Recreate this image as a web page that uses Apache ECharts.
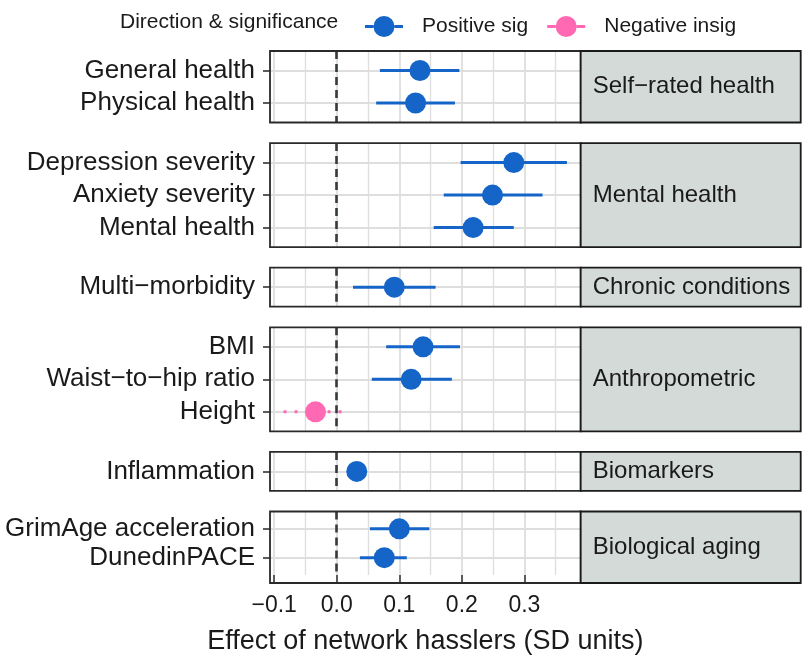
<!DOCTYPE html>
<html>
<head>
<meta charset="utf-8">
<title>Network hasslers forest plot</title>
<script src="https://cdn.jsdelivr.net/npm/echarts@6/dist/echarts.min.js"></script>
<style>
  html, body { margin: 0; padding: 0; background: #fff; }
  #chart { width: 802px; height: 656px; }
</style>
</head>
<body>
<div id="chart"></div>
<script>
// facet strips (right side), top to bottom
const panelNames = ['Self−rated health', 'Mental health', 'Chronic conditions', 'Anthropometric', 'Biomarkers', 'Biological aging'];
// outcomes in each facet, top to bottom
const outcomeLabels = [
  ['General health', 'Physical health'],
  ['Depression severity', 'Anxiety severity', 'Mental health'],
  ['Multi−morbidity'],
  ['BMI', 'Waist−to−hip ratio', 'Height'],
  ['Inflammation'],
  ['GrimAge acceleration', 'DunedinPACE']
];
const estimates = [[0.133, 0.126], [0.283, 0.249, 0.218], [0.092], [0.138, 0.119, -0.034], [0.032], [0.100, 0.076]];
const lowerCI   = [[0.069, 0.063], [0.198, 0.171, 0.155], [0.026], [0.079, 0.056, -0.085], [0.020], [0.053, 0.037]];
const upperCI   = [[0.196, 0.189], [0.368, 0.329, 0.283], [0.158], [0.197, 0.184, 0.011], [0.044], [0.148, 0.112]];
const groups    = [['Positive sig', 'Positive sig'], ['Positive sig', 'Positive sig', 'Positive sig'], ['Positive sig'],
                   ['Positive sig', 'Positive sig', 'Negative insig'], ['Positive sig'], ['Positive sig', 'Positive sig']];
const groupNames = ['Positive sig', 'Negative insig'];
const groupColors = { 'Positive sig': '#1565C8', 'Negative insig': '#FF69B4' };
const xBreaks = [-0.1, 0, 0.1, 0.2, 0.3];
const xMinorBreaks = [-0.05, 0.05, 0.15, 0.25, 0.35];

const X_MIN = -0.1067, X_MAX = 0.39;
const PANEL_LEFT = 270, PANEL_W = 310.7, STRIP_W = 220;
const ROW = 32.5, GAP = 20.6;
const FONT = '"Liberation Sans", Arial, Helvetica, sans-serif';
const INK = '#1a1a1a';
const GRID_COL = '#dedede';

const chart = echarts.init(document.getElementById('chart'));

const grids = [], xAxes = [], yAxes = [], series = [], graphics = [];
let panelTop = 51;

outcomeLabels.forEach((labels, i) => {
  const n = labels.length;
  const h = (n + 0.2) * ROW;
  const last = i === outcomeLabels.length - 1;
  const rows = labels.map((_, k) => k + 1);

  grids.push({ left: PANEL_LEFT, top: panelTop, width: PANEL_W, height: h, show: false });

  xAxes.push({
    gridIndex: i, type: 'value', min: X_MIN, max: X_MAX, position: 'bottom',
    axisLine: { show: false, onZero: false },
    axisTick: { show: last, length: 7, customValues: xBreaks, lineStyle: { color: '#333', width: 1.6 } },
    axisLabel: {
      show: last, customValues: xBreaks, margin: 19, fontSize: 23, color: INK, fontFamily: FONT,
      formatter: v => (v < 0 ? '−' : '') + Math.abs(v).toFixed(1)
    },
    splitLine: { show: true, lineStyle: { color: GRID_COL, width: 1.8 } },
    name: last ? 'Effect of network hasslers (SD units)' : '',
    nameLocation: 'middle', nameGap: 53,
    nameTextStyle: { fontSize: 27, color: INK, fontFamily: FONT }
  });

  yAxes.push({
    gridIndex: i, type: 'value', inverse: true, min: 0.4, max: n + 0.6, position: 'left',
    minInterval: 1, maxInterval: 1,
    axisLine: { show: false, onZero: false },
    axisTick: { show: true, length: 7, customValues: rows, lineStyle: { color: '#333', width: 1.6 } },
    axisLabel: {
      customValues: rows, margin: 15, fontSize: 26, color: INK, fontFamily: FONT,
      formatter: v => labels[Math.round(v) - 1] || ''
    },
    splitLine: { show: true, lineStyle: { color: GRID_COL, width: 1.8 } }
  });

  // minor grid + zero reference line
  series.push({
    type: 'line', xAxisIndex: i, yAxisIndex: i, data: [], z: 1, silent: true,
    markLine: {
      z: 1, symbol: 'none', silent: true, animation: false, label: { show: false },
      data: xMinorBreaks.map(v => ({ xAxis: v, lineStyle: { color: GRID_COL, width: 1.4, type: 'solid' } }))
        .concat([{ xAxis: 0, lineStyle: { color: '#353a3a', width: 2.6, type: [8, 5] } }])
    }
  });

  // confidence intervals
  series.push({
    type: 'custom', xAxisIndex: i, yAxisIndex: i, z: 3, silent: true,
    encode: { x: [0, 1], y: 2 },
    data: labels.map((_, k) => [lowerCI[i][k], upperCI[i][k], k + 1, groupNames.indexOf(groups[i][k])]),
    renderItem: (params, api) => {
      const y = api.value(2);
      const p1 = api.coord([api.value(0), y]);
      const p2 = api.coord([api.value(1), y]);
      const g = groupNames[api.value(3)];
      return {
        type: 'line',
        shape: { x1: p1[0], y1: p1[1], x2: p2[0], y2: p2[1] },
        style: {
          stroke: groupColors[g], lineWidth: 3, lineCap: 'butt',
          lineDash: g === 'Negative insig' ? [3, 8] : null
        }
      };
    }
  });

  // point estimates
  groupNames.forEach(g => {
    series.push({
      name: g, type: 'scatter', xAxisIndex: i, yAxisIndex: i, z: 4,
      symbol: 'circle', symbolSize: 21,
      itemStyle: { color: groupColors[g], opacity: 1 },
      data: labels.map((_, k) => groups[i][k] === g ? [estimates[i][k], k + 1] : null).filter(d => d)
    });
  });

  // panel border and facet strip
  graphics.push({
    type: 'rect', z: 100, silent: true,
    shape: { x: PANEL_LEFT, y: panelTop, width: PANEL_W, height: h },
    style: { fill: 'none', stroke: '#2a2a2a', lineWidth: 1.8 }
  });
  graphics.push({
    type: 'rect', z: 100, silent: true,
    shape: { x: PANEL_LEFT + PANEL_W, y: panelTop, width: STRIP_W, height: h },
    style: { fill: '#D4DAD7', stroke: INK, lineWidth: 1.8 }
  });
  graphics.push({
    type: 'text', z: 101, silent: true, x: PANEL_LEFT + PANEL_W + 12, y: panelTop + h / 2,
    style: { text: panelNames[i], fill: INK, font: '24px ' + FONT, verticalAlign: 'middle', textVerticalAlign: 'middle' }
  });

  panelTop += h + GAP;
});

graphics.push({
  type: 'text', silent: true, x: 120, y: 22,
  style: { text: 'Direction & significance', fill: INK, font: '21px ' + FONT, verticalAlign: 'middle', textVerticalAlign: 'middle' }
});

const LEGEND_ICON = 'path://M0,9h8.5v3h-8.5z M29.5,9h8.5v3h-8.5z M8.5,10.5a10.5,10.5 0 1,0 21,0a10.5,10.5 0 1,0 -21,0z';

chart.setOption({
  animation: false,
  backgroundColor: '#fff',
  textStyle: { fontFamily: FONT },
  legend: {
    data: groupNames, left: 360, top: 11, orient: 'horizontal',
    icon: LEGEND_ICON, itemWidth: 38, itemHeight: 21, itemGap: 19,
    selectedMode: false,
    textStyle: { fontSize: 21, color: INK, fontFamily: FONT, padding: [0, 0, 0, 14] }
  },
  grid: grids,
  xAxis: xAxes,
  yAxis: yAxes,
  series: series,
  graphic: graphics
});
</script>
</body>
</html>
